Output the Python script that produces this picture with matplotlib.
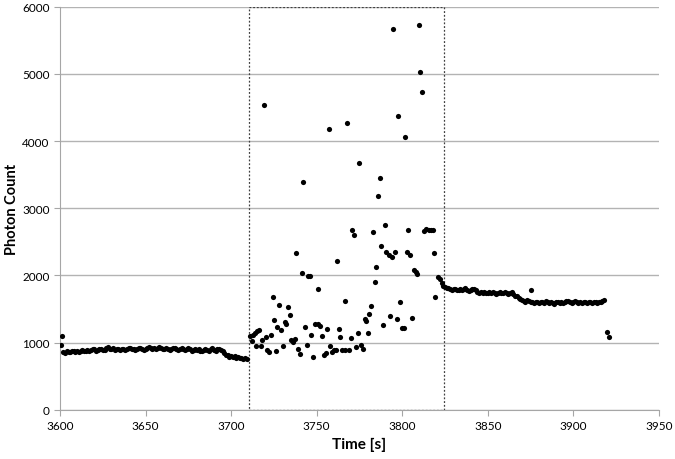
import matplotlib.pyplot as plt
from matplotlib.patches import Rectangle

plt.rcParams['font.family'] = ['Lato', 'DejaVu Sans']

# baseline before the window (one sample per second)
base_t = [3600.4, 3601,
          3602, 3603, 3604, 3605, 3606, 3607, 3608, 3609, 3610, 3611,
          3612, 3613, 3614, 3615, 3616, 3617, 3618, 3619, 3620, 3621,
          3622, 3623, 3624, 3625, 3626, 3627, 3628, 3629, 3630, 3631,
          3632, 3633, 3634, 3635, 3636, 3637, 3638, 3639, 3640, 3641,
          3642, 3643, 3644, 3645, 3646, 3647, 3648, 3649, 3650, 3651,
          3652, 3653, 3654, 3655, 3656, 3657, 3658, 3659, 3660, 3661,
          3662, 3663, 3664, 3665, 3666, 3667, 3668, 3669, 3670, 3671,
          3672, 3673, 3674, 3675, 3676, 3677, 3678, 3679, 3680, 3681,
          3682, 3683, 3684, 3685, 3686, 3687, 3688, 3689, 3690, 3691,
          3692, 3693, 3694, 3695, 3696, 3697, 3698, 3699, 3700, 3701,
          3702, 3703, 3704, 3705, 3706, 3707, 3708, 3709]
base_y = [968, 1097,
          860, 850, 870, 865, 855, 880, 870, 860, 875, 865,
          870, 885, 875, 880, 890, 870, 885, 900, 905, 880,
          890, 910, 900, 885, 895, 920, 935, 910, 900, 915,
          895, 905, 900, 890, 910, 900, 895, 905, 920, 915,
          900, 910, 895, 905, 915, 925, 905, 895, 910, 920,
          930, 915, 905, 920, 910, 925, 935, 915, 900, 910,
          920, 905, 895, 910, 925, 915, 900, 890, 905, 920,
          910, 895, 905, 915, 900, 880, 895, 910, 890, 900,
          880, 870, 895, 905, 890, 875, 900, 915, 895, 880,
          900, 910, 890, 870, 850, 820, 810, 790, 805, 780,
          795, 770, 780, 765, 775, 760, 770, 755]

# scattered counts inside the window
mid_t = [3711.2, 3712.2, 3712.8, 3714.1, 3714.4, 3715.3, 3716.4, 3717.3, 3718.2, 3719.3,
         3720.3, 3721.1, 3722.3, 3723.2, 3724.2, 3725.1, 3726.1, 3727.1, 3728.0, 3729.2,
         3730.2, 3731.3, 3732.3, 3733.1, 3734.2, 3735.2, 3736.4, 3737.1, 3738.1, 3738.8,
         3740.2, 3741.2, 3742.1, 3743.3, 3744.2, 3745.2, 3746.2, 3746.9, 3748.1, 3749.2,
         3750.6, 3751.0, 3752.0, 3753.1, 3754.3, 3755.2, 3756.0, 3757.0, 3757.9, 3759.1,
         3760.4, 3761.4, 3761.8, 3763.0, 3763.9, 3765.0, 3766.4, 3766.8, 3768.0, 3768.7,
         3769.9, 3770.7, 3771.8, 3772.8, 3773.9, 3775.0, 3775.9, 3777.0, 3778.4, 3779.0,
         3780.0, 3780.7, 3781.9, 3782.8, 3784.0, 3784.7, 3785.9, 3786.9, 3787.7, 3788.6,
         3789.7, 3790.7, 3792.0, 3792.6, 3793.8, 3794.6, 3795.7, 3796.9, 3797.7, 3798.6,
         3799.6, 3800.9, 3801.7, 3802.6, 3803.6, 3804.6, 3805.9, 3806.7, 3807.9, 3808.8,
         3809.6, 3810.6, 3811.7, 3812.7, 3814.0, 3815.6, 3817.1, 3818.1, 3818.7, 3819.3,
         3821.2, 3822.1, 3823.1]
mid_y = [1097, 1017, 1112, 1147, 943, 1172, 1187, 953, 1038, 4531,
         1087, 883, 853, 1107, 1678, 1336, 878, 1240, 1563, 1191,
         953, 1306, 1270, 1534, 1410, 1038, 1008, 1057, 2327, 898,
         834, 2044, 3385, 1231, 972, 1985, 1985, 1112, 779, 1276,
         1270, 1802, 1246, 1092, 819, 838, 1206, 4184, 943, 859,
         889, 893, 2219, 1201, 1083, 883, 883, 1623, 4269, 889,
         1068, 2676, 2601, 934, 1142, 3668, 963, 904, 1350, 1325,
         1136, 1429, 1544, 2650, 1906, 2129, 3186, 3454, 2432, 1261,
         2750, 2348, 2298, 1400, 2274, 5668, 2353, 1345, 4368, 1604,
         1221, 1221, 4060, 2342, 2670, 2312, 1360, 2085, 2050, 2020,
         5722, 5028, 4730, 2660, 2685, 2675, 2680, 2675, 2327, 1678,
         1976, 1940, 1891]

# level after the window
tail_t = [3824, 3825, 3826, 3827, 3828, 3829, 3830, 3831, 3832, 3833,
          3834, 3835, 3836, 3837, 3838, 3839, 3840, 3841, 3842, 3843,
          3844, 3845, 3846, 3847, 3848, 3849, 3850, 3851, 3852, 3853,
          3854, 3855, 3856, 3857, 3858, 3859, 3860, 3861, 3862, 3863,
          3864, 3865, 3866, 3867, 3868, 3869, 3870, 3871, 3872, 3873,
          3874, 3875, 3876, 3877, 3878, 3879, 3880, 3881, 3882, 3883,
          3884, 3885, 3886, 3887, 3888, 3889, 3890, 3891, 3892, 3893,
          3894, 3895, 3896, 3897, 3898, 3899, 3900, 3901, 3902, 3903,
          3904, 3905, 3906, 3907, 3908, 3909, 3910, 3911, 3912, 3913,
          3914, 3915, 3916, 3917, 3918,
          3875.2, 3919.7, 3920.7]
tail_y = [1850, 1830, 1810, 1820, 1800, 1790, 1805, 1795, 1780, 1790,
          1800, 1785, 1795, 1810, 1790, 1775, 1780, 1795, 1805, 1790,
          1760, 1745, 1750, 1740, 1755, 1745, 1735, 1750, 1740, 1755,
          1745, 1730, 1740, 1750, 1735, 1745, 1755, 1740, 1730, 1745,
          1750, 1720, 1700, 1690, 1670, 1650, 1630, 1620, 1610, 1640,
          1620, 1600, 1610, 1595, 1605, 1600, 1590, 1610, 1600, 1595,
          1615, 1600, 1590, 1605, 1595, 1580, 1600, 1610, 1595, 1605,
          1590, 1600, 1615, 1620, 1600, 1585, 1610, 1625, 1605, 1590,
          1600, 1595, 1610, 1600, 1590, 1605, 1600, 1595, 1610, 1600,
          1590, 1605, 1600, 1620, 1640,
          1782, 1157, 1087]

x_ticks = [3600, 3650, 3700, 3750, 3800, 3850, 3900, 3950]
y_ticks = [0, 1000, 2000, 3000, 4000, 5000, 6000]
window = (3710.5, 3824.5)  # dotted box

fig = plt.figure(figsize=(6.75, 4.6), dpi=100)
ax = fig.add_axes([0.089, 0.107, 0.887, 0.876])

for t, y in [(base_t, base_y), (mid_t, mid_y), (tail_t, tail_y)]:
    ax.scatter(t, y, s=14, color='black', linewidths=0, zorder=3)

ax.add_patch(Rectangle((window[0], 0), window[1] - window[0], 6000, fill=False,
                       edgecolor='#404040', linestyle=(0, (1.5, 1.5)), linewidth=0.9, zorder=2))

ax.set_xlim(3600, 3950)
ax.set_ylim(0, 6000)
ax.set_xticks(x_ticks)
ax.set_yticks(y_ticks)
ax.yaxis.grid(True, color='#b3b3b3', linewidth=1)
ax.set_axisbelow(True)
for s in ['top', 'right']:
    ax.spines[s].set_visible(False)
for s in ['left', 'bottom']:
    ax.spines[s].set_color('#a6a6a6')
ax.tick_params(axis='both', colors='#a6a6a6', labelcolor='black', labelsize=8.5, length=4)
ax.set_xlabel('Time [s]', fontsize=11, fontweight='bold', labelpad=4)
ax.set_ylabel('Photon Count', fontsize=10.5, fontweight='bold', labelpad=2)

fig.savefig('out.png', dpi=100)
